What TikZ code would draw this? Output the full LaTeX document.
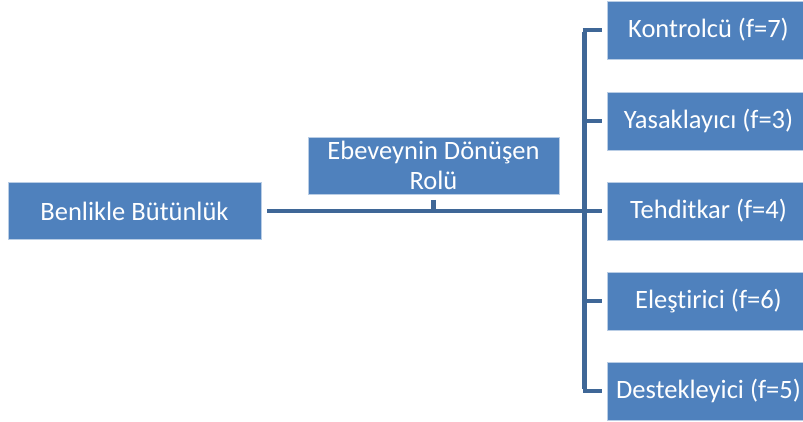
\documentclass[tikz,border=0pt]{standalone}
\usepackage{fontspec}
\setmainfont{Carlito}[Ligatures=NoCommon]
\definecolor{boxfill}{HTML}{4F81BD}
\definecolor{boxedge}{HTML}{B9CDE5}
\definecolor{linkcol}{HTML}{3F6797}
\begin{document}
\begin{tikzpicture}[x=1pt,y=-1pt,
  box/.style={fill=boxfill,draw=boxedge,line width=0.6pt,text=white,
    font=\fontsize{26.5}{30}\selectfont,inner sep=0pt,align=center},
  link/.style={draw=linkcol,line width=4.6pt}]
\useasboundingbox (0,0) rectangle (803,422);
\clip (0,0) rectangle (803,422);

% left root and middle label
\node[box,minimum width=253pt,minimum height=57pt] (root) at (134.5,211) {Benlikle Bütünlük};
\node[box,minimum width=251pt,minimum height=57pt] (role) at (433.5,165.5) {Ebeveynin Dönüşen\\Rolü};

% right column
\foreach \n/\t/\y in {k/Kontrolcü (f=7)/30,
                      y/Yasaklayıcı (f=3)/121,
                      t/Tehditkar (f=4)/211,
                      e/Eleştirici (f=6)/301,
                      d/Destekleyici (f=5)/391}{
  \node[box,minimum width=203pt,minimum height=58pt] (\n) at (708.5,\y) {\t};
}

% bracket and connectors
\coordinate (bx) at (583,211);
\coordinate (tick) at (433.5,200);
\draw[link] ([xshift=6pt]root.east) -- ([xshift=-5pt]t.west);
\draw[link] (tick) -- (tick |- bx);
\draw[link] ([xshift=-24pt]k.west) -- ([xshift=-5pt]k.west);
\draw[link] ([xshift=-24pt]d.west) -- ([xshift=-5pt]d.west);
\draw[link] ([xshift=-22pt,yshift=-2.3pt]k.west) -- ([xshift=-22pt,yshift=2.3pt]d.west);
\draw[link] ([xshift=-24pt]y.west) -- ([xshift=-5pt]y.west);
\draw[link] ([xshift=-24pt]e.west) -- ([xshift=-5pt]e.west);
\end{tikzpicture}
\end{document}
